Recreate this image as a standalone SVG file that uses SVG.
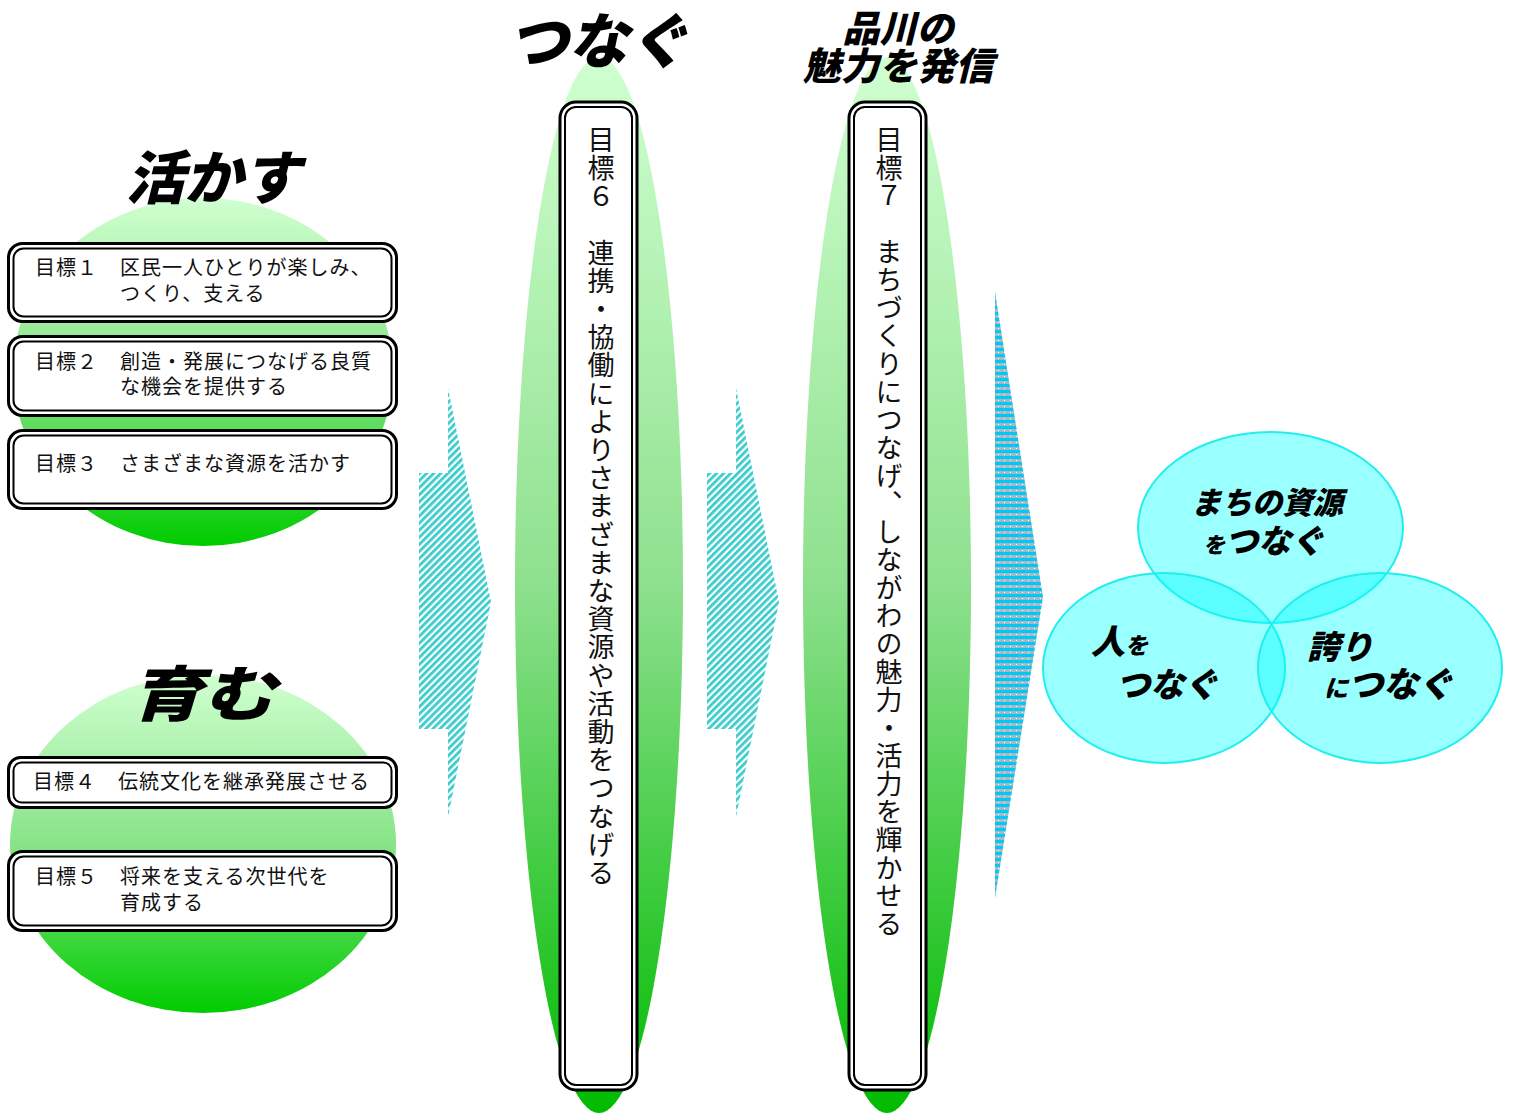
<svg xmlns="http://www.w3.org/2000/svg" width="1514" height="1113" viewBox="0 0 1514 1113">
<style>
.goal{font-family:"Noto Sans CJK JP","Noto Sans",sans-serif;font-size:20px;fill:#111;letter-spacing:1px}
.head{font-family:"Noto Sans CJK JP","Noto Sans",sans-serif;font-weight:900;font-style:italic;fill:#000}
.vt{font-family:"Noto Sans CJK JP","Noto Sans",sans-serif;font-size:27px;fill:#111;writing-mode:vertical-rl;text-orientation:upright}
.ob{fill:#fff;stroke:#000;stroke-width:3}
.ib{fill:#fff;stroke:#000;stroke-width:2}
.venn{fill:#00ffff;fill-opacity:0.4;stroke:#22eeee;stroke-width:2}
</style>
<defs>
<linearGradient id="gC" x1="0" y1="0" x2="0" y2="1">
<stop offset="0" stop-color="#d0ffd0"/>
<stop offset="0.5" stop-color="#88e488"/>
<stop offset="1" stop-color="#00cc00"/>
</linearGradient>
<linearGradient id="gE" x1="0" y1="0" x2="0" y2="1">
<stop offset="0" stop-color="#d0ffd0"/>
<stop offset="0.5" stop-color="#8ee08e"/>
<stop offset="1" stop-color="#00bb00"/>
</linearGradient>
<pattern id="hatch" width="5" height="5" patternUnits="userSpaceOnUse" patternTransform="rotate(45)">
<rect width="5" height="5" fill="#fff"/>
<rect width="2.8" height="5" fill="#3ccccc"/>
</pattern>
<pattern id="hstripe" width="6" height="6" patternUnits="userSpaceOnUse">
<rect width="6" height="3" fill="#00c8f8"/>
<rect y="3" width="6" height="3" fill="#a8b8c0"/>
<rect x="2" y="4" width="1" height="1" fill="#fff"/>
</pattern>
</defs>

<!-- background shapes -->
<ellipse cx="203" cy="372" rx="190" ry="174" fill="url(#gC)"/>
<ellipse cx="203" cy="844" rx="193" ry="169" fill="url(#gC)"/>
<ellipse cx="599" cy="585" rx="84" ry="528" fill="url(#gE)"/>
<ellipse cx="887" cy="585" rx="84" ry="528" fill="url(#gE)"/>

<!-- headings -->
<text class="head" x="213" y="199" font-size="58" text-anchor="middle">活かす</text>
<text class="head" x="130" y="716" font-size="60" textLength="145" lengthAdjust="spacingAndGlyphs">育む</text>
<text class="head" x="598" y="63" font-size="60" text-anchor="middle">つなぐ</text>
<text class="head" x="898" y="42" font-size="37" text-anchor="middle">品川の</text>
<text class="head" x="898" y="80" font-size="38" text-anchor="middle">魅力を発信</text>

<!-- connectors (arrows) -->
<g id="connectors">
<path d="M419,473 H448 V388 L491,602 L448,817 V729 H419 Z" fill="url(#hatch)"/>
<path d="M707,473 H736 V388 L779,602 L736,817 V729 H707 Z" fill="url(#hatch)"/>
<path d="M995,292 L1043,597 L995,898 Z" fill="url(#hstripe)"/>
</g>

<g id="goal1">
<rect class="ob" x="8.5" y="243.5" width="388" height="78" rx="14"/>
<rect class="ib" x="13.5" y="248.5" width="378" height="68" rx="10"/>
<text class="goal" x="35" y="275">目標１</text>
<text class="goal" x="120" y="275">区民一人ひとりが楽しみ、</text>
<text class="goal" x="120" y="301">つくり、支える</text>
</g>
<g id="goal2">
<rect class="ob" x="8.5" y="336.5" width="388" height="79" rx="14"/>
<rect class="ib" x="13.5" y="341.5" width="378" height="69" rx="10"/>
<text class="goal" x="35" y="369">目標２</text>
<text class="goal" x="120" y="369">創造・発展につなげる良質</text>
<text class="goal" x="120" y="394">な機会を提供する</text>
</g>
<g id="goal3">
<rect class="ob" x="8.5" y="430.5" width="388" height="78" rx="14"/>
<rect class="ib" x="13.5" y="435.5" width="378" height="68" rx="10"/>
<text class="goal" x="35" y="471">目標３</text>
<text class="goal" x="120" y="471">さまざまな資源を活かす</text>
</g>
<g id="goal4">
<rect class="ob" x="8.5" y="757.5" width="388" height="50" rx="12"/>
<rect class="ib" x="13.5" y="762.5" width="378" height="40" rx="8"/>
<text class="goal" x="33" y="789">目標４</text>
<text class="goal" x="118" y="789" letter-spacing="0.7">伝統文化を継承発展させる</text>
</g>
<g id="goal5">
<rect class="ob" x="8.5" y="851.5" width="388" height="79" rx="14"/>
<rect class="ib" x="13.5" y="856.5" width="378" height="69" rx="10"/>
<text class="goal" x="35" y="884">目標５</text>
<text class="goal" x="120" y="884">将来を支える次世代を</text>
<text class="goal" x="120" y="910">育成する</text>
</g>

<g id="goal6">
<rect class="ob" x="560" y="102" width="77" height="988" rx="16"/>
<rect class="ib" x="565" y="107" width="67" height="978" rx="11"/>
<text class="vt" x="601" y="126" letter-spacing="1.2">目標６　連携・協働によりさまざまな資源や活動をつなげる</text>
</g>
<g id="goal7">
<rect class="ob" x="849" y="102" width="77" height="988" rx="16"/>
<rect class="ib" x="854" y="107" width="67" height="978" rx="11"/>
<text class="vt" x="889" y="126" letter-spacing="1">目標７　まちづくりにつなげ、しながわの魅力・活力を輝かせる</text>
</g>

<g id="venn">
<ellipse class="venn" cx="1270.5" cy="527.5" rx="132.5" ry="95.5"/>
<ellipse class="venn" cx="1164" cy="668" rx="121" ry="95"/>
<ellipse class="venn" cx="1380" cy="668" rx="122" ry="95"/>
<text class="head" x="1191" y="514" font-size="31" textLength="152" lengthAdjust="spacingAndGlyphs">まちの資源</text>
<text class="head" x="1203" y="553"><tspan font-size="22">を</tspan><tspan font-size="33">つなぐ</tspan></text>
<text class="head" x="1091" y="654"><tspan font-size="34">人</tspan><tspan font-size="23">を</tspan></text>
<text class="head" x="1116" y="697" font-size="34">つなぐ</text>
<text class="head" x="1307" y="659" font-size="33">誇り</text>
<text class="head" x="1324" y="697"><tspan font-size="24">に</tspan><tspan font-size="35">つなぐ</tspan></text>
</g>
</svg>
